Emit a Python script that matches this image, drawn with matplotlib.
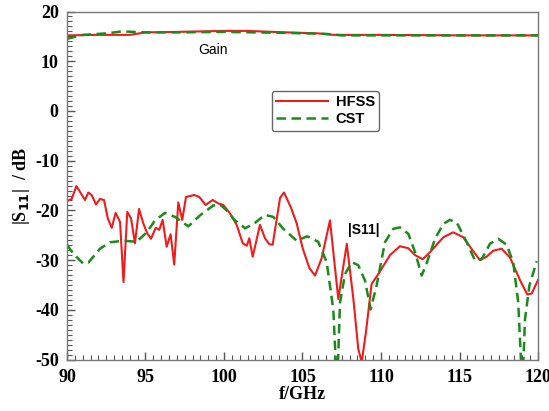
import matplotlib
matplotlib.use("Agg")
import matplotlib.pyplot as plt
from matplotlib.ticker import MultipleLocator

plt.rcParams["axes.unicode_minus"] = False

# Gain curves (dB)
gain_f_hfss = [90, 92, 94, 95, 97, 100, 101.5, 104, 106, 107, 110, 115, 120]
gain_hfss = [15.2, 15.3, 15.3, 15.8, 15.9, 16.1, 16.1, 15.8, 15.6, 15.3, 15.3, 15.2, 15.2]
gain_f_cst = [90, 91, 92.5, 93.5, 95, 97, 100, 104, 106.5, 107.5, 110, 115, 120]
gain_cst = [14.5, 15.3, 15.6, 16.0, 15.8, 15.8, 15.9, 15.7, 15.5, 15.2, 15.2, 15.2, 15.2]

# |S11| HFSS
s11_f_hfss = [90.0, 90.3, 90.6, 91.15, 91.36, 91.57, 91.85, 92.1, 92.36, 92.6, 92.85,
              93.1, 93.38, 93.6, 93.84, 94.08, 94.33, 94.59, 94.86, 95.11, 95.35,
              95.65, 95.88, 96.09, 96.35, 96.6, 96.83, 97.09, 97.34, 97.58, 98.1,
              98.43, 98.83, 99.28, 99.64, 99.96, 100.38, 100.81, 101.19, 101.45,
              101.61, 101.83, 102.29, 102.61, 102.89, 103.1, 103.57, 103.82, 104.25,
              104.63, 105.01, 105.44, 105.8, 106.22, 106.75, 107.28, 107.82, 108.24,
              108.55, 108.77, 109.04, 109.4, 109.83, 110.57, 111.2, 111.74, 112.17,
              112.66, 113.12, 113.97, 114.6, 115.24, 115.83, 116.3, 116.73, 117.15,
              117.68, 118.22, 118.85, 119.32, 119.6, 120.0]
s11_hfss = [-18.1, -17.7, -15.1, -17.9, -16.4, -16.9, -18.8, -17.7, -17.9, -21.6, -23.5,
            -20.5, -22.3, -34.4, -20.3, -21.6, -26.6, -19.7, -22.6, -24.6, -25.7,
            -23.5, -23.9, -21.9, -27.3, -24.8, -30.9, -18.4, -21.9, -17.3, -16.9,
            -17.3, -18.9, -17.9, -18.6, -18.9, -20.6, -22.9, -26.6, -27.1,
            -25.6, -29.3, -22.9, -25.6, -26.8, -26.9, -17.5, -16.4, -19.3,
            -22.6, -27.6, -31.6, -33.1, -29.6, -22.0, -37.8, -26.7, -37.8,
            -47.8, -50.5, -44.5, -34.8, -32.8, -29.0, -27.2, -27.6, -29.0,
            -29.8, -28.4, -25.4, -24.4, -25.4, -28.0, -30.0, -29.3, -28.1,
            -27.7, -29.5, -34.0, -36.9, -36.7, -34.0]

# |S11| CST
s11_f_cst = [90.0, 90.4, 91.04, 91.36, 92.1, 92.74, 93.59, 94.44, 95.08, 95.61, 96.24,
             96.88, 97.73, 98.47, 99.32, 99.75, 100.17, 100.7, 101.34, 101.97, 102.61,
             103.14, 103.78, 104.63, 105.3, 106.0, 106.54, 106.96, 107.2, 107.39,
             107.71, 108.13, 108.55, 108.98, 109.34, 109.72, 110.25, 110.78, 111.2,
             111.74, 112.17, 112.59, 112.9, 113.44, 113.97, 114.39, 114.82, 115.46,
             115.99, 116.41, 116.94, 117.47, 118.0, 118.42, 118.74, 119.0, 119.17,
             119.45, 119.92]
s11_cst = [-26.9, -28.7, -30.7, -30.5, -27.7, -26.4, -26.1, -26.3, -24.4, -22.0, -20.5,
           -21.3, -23.2, -21.0, -19.0, -18.8, -20.0, -22.0, -23.6, -22.5, -20.9,
           -21.3, -23.7, -26.1, -25.2, -26.3, -30.4, -39.9, -56.0, -38.5,
           -32.8, -30.4, -31.0, -34.1, -39.9, -35.1, -26.4, -23.7, -23.4,
           -24.7, -28.4, -33.1, -30.7, -25.7, -22.7, -21.9, -22.4, -26.4,
           -30.1, -29.8, -26.7, -25.7, -26.9, -30.4, -38.5, -56.0, -41.9,
           -35.1, -30.2]

RED = "#ee1c1c"
GREEN = "#1a8a1a"

fig = plt.figure(figsize=(5.49, 4.11), dpi=100)
ax = fig.add_axes([0.122, 0.125, 0.858, 0.847])

ax.plot(gain_f_hfss, gain_hfss, color=RED, lw=1.5, label="HFSS")
ax.plot(gain_f_cst, gain_cst, color=GREEN, lw=1.8, ls=(0, (3.8, 2.2)), label="CST")
ax.plot(s11_f_hfss, s11_hfss, color=RED, lw=1.5)
ax.plot(s11_f_cst, s11_cst, color=GREEN, lw=1.8, ls=(0, (3.8, 2.2)))

ax.set_xlim(90, 120)
ax.set_ylim(-50, 20)
ax.xaxis.set_major_locator(MultipleLocator(5))
ax.xaxis.set_minor_locator(MultipleLocator(0.5))
ax.yaxis.set_major_locator(MultipleLocator(10))
ax.yaxis.set_minor_locator(MultipleLocator(1))
ax.tick_params(which="both", direction="in", top=False, right=False,
               color="#555555")
ax.tick_params(which="major", length=6, width=1)
ax.tick_params(which="minor", length=3.5, width=0.8)
ax.tick_params(axis="x", which="major", pad=7)
ax.tick_params(axis="y", which="major", pad=6)

for s in ax.spines.values():
    s.set_color("#777777")
    s.set_linewidth(1)

serif = {"family": "Liberation Serif", "weight": "bold", "size": 13}
for lab in ax.get_xticklabels() + ax.get_yticklabels():
    lab.set_fontfamily("Liberation Serif")
    lab.set_fontweight("bold")
    lab.set_fontsize(13)

ax.set_xlabel("f/GHz", fontdict=serif, labelpad=0)
ax.set_ylabel(r"|S$_{\mathbf{11}}$|  / dB", fontdict=serif, labelpad=2)

ax.text(99.3, 12.2, "Gain", fontsize=10, family="Liberation Sans",
        ha="center", va="center")
ax.text(108.9, -24, "|S11|", fontsize=10, family="Liberation Sans",
        fontweight="bold", ha="center", va="center")

leg = ax.legend(loc="upper left", bbox_to_anchor=(0.428, 0.78),
                prop={"family": "Liberation Sans", "weight": "bold", "size": 10.5},
                handlelength=3.6, handletextpad=0.5, borderpad=0.3,
                labelspacing=0.2, borderaxespad=0.2, fancybox=True, framealpha=1)
leg.get_frame().set_edgecolor("#666666")
leg.get_frame().set_linewidth(1)

fig.savefig("out.png", dpi=100)
